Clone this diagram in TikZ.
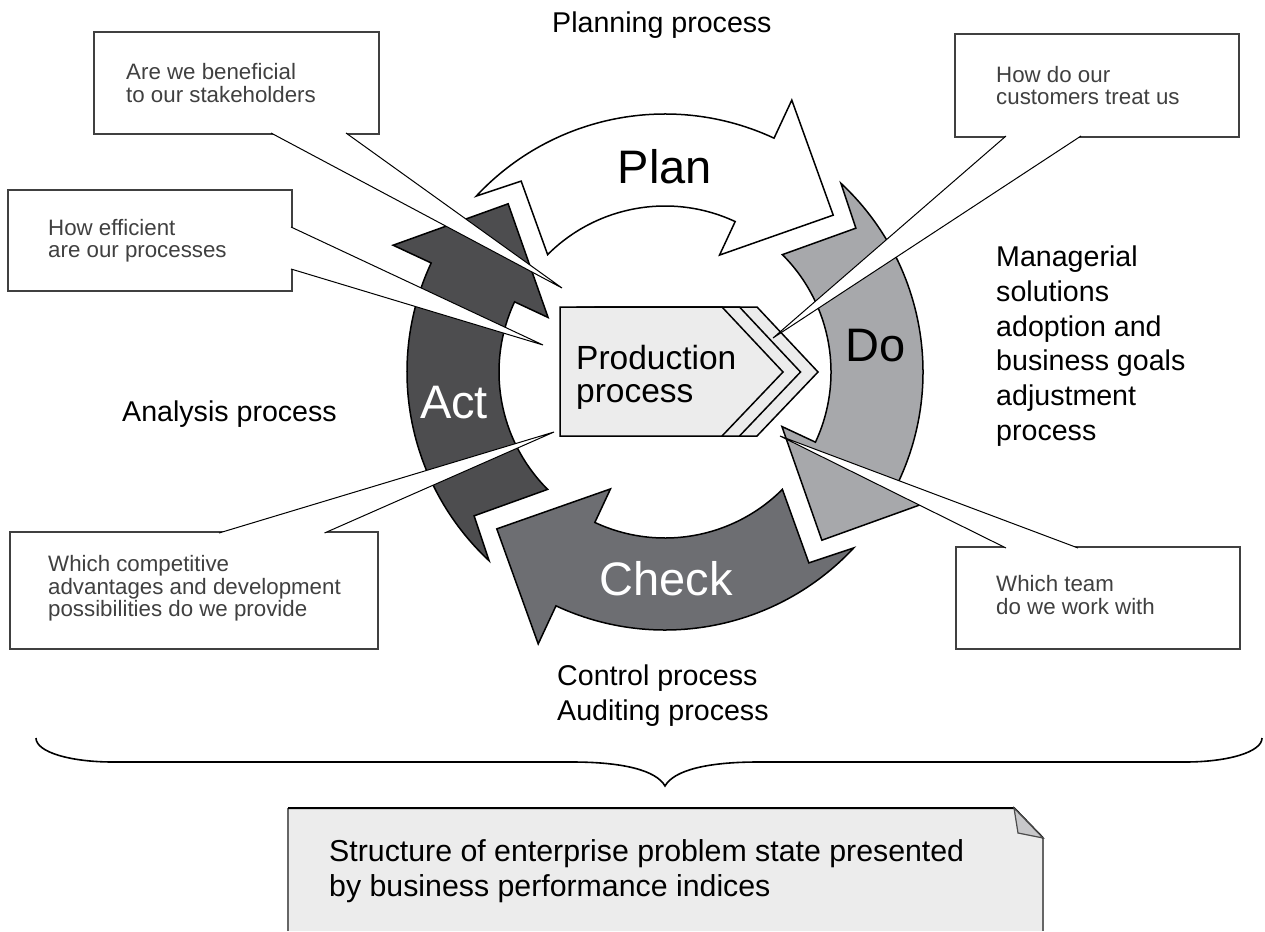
\documentclass[tikz,border=0pt]{standalone}
\usepackage{fontspec}
\setmainfont{Liberation Sans}
\usetikzlibrary{calc}

\definecolor{dogray}{RGB}{167,168,171}
\definecolor{checkgray}{RGB}{109,110,114}
\definecolor{actgray}{RGB}{77,77,79}
\definecolor{boxgray}{RGB}{236,236,236}
\definecolor{foldgray}{RGB}{200,200,202}
\definecolor{calltext}{RGB}{64,64,64}

% one curved arrow of the cycle, turned by #1 degrees
\newcommand*{\cyclearrow}[2]{%
\draw[cyclestyle, fill=#2] ({137+#1}:258) -- ({127+#1}:239) -- ({135+#1}:166)
  arc[start angle={135+#1}, end angle={65+#1}, radius=166] -- ({65+#1}:129)
  -- ({43+#1}:230) -- ({65+#1}:300) -- ({65+#1}:258)
  arc[start angle={65+#1}, end angle={137+#1}, radius=258] -- cycle;}

% pointer of a callout box
\newcommand*{\callwedge}[3]{%
\filldraw[wedgeline] (#1) -- (#2) -- (#3);}

\tikzset{
  cyclestyle/.style={draw=black, line width=1.5pt, line join=miter},
  wedgeline/.style={draw=black, fill=white, line width=1pt},
  callout/.style={draw=black!75, line width=1.2pt, fill=white, inner sep=0pt, outer sep=0pt},
  calltxt/.style={inner sep=0pt, anchor=west, align=left, text=calltext,
    font=\fontsize{22.3}{22.5}\selectfont},
  plaintext/.style={inner sep=0pt, align=left, font=\fontsize{28.6}{34.8}\selectfont},
  biglabel/.style={inner sep=0pt, font=\fontsize{47}{47}\selectfont},
  prodlayer/.style={draw=black, fill=boxgray, line width=1.5pt, line join=miter}
}

\begin{document}
\begin{tikzpicture}[x=1pt, y=-1pt]
\useasboundingbox (0,0) rectangle (1265,931);

% PDCA ring
\begin{scope}[shift={(665,372)}, yscale=-1]
  \cyclearrow{0}{white}
  \cyclearrow{-90}{dogray}
  \cyclearrow{-180}{checkgray}
  \cyclearrow{-270}{actgray}
\end{scope}

\node[biglabel] (plan) at (665,167) {Plan};
\node[biglabel] (do) at (876,346) {Do};
\node[biglabel, text=white] (check) at (666,579) {Check};
\node[biglabel, text=white] (act) at (454,403) {Act};

% production process box
\draw[prodlayer] (595,307) -- (757,307) -- (818,372) -- (757,436) -- (595,436) -- cycle;
\draw[prodlayer] (577,307) -- (739.5,307) -- (800.5,372) -- (739.5,436) -- (577,436) -- cycle;
\draw[prodlayer] (560,307) -- (722,307) -- (783,372) -- (722,436) -- (560,436) -- cycle;
\node[inner sep=0pt, align=left, anchor=west, font=\fontsize{33.5}{33}\selectfont]
  (prod) at (576,377) {Production\\process};

% callouts
\node[callout, minimum width=285pt, minimum height=102pt] (cbenefit) at (236.5,83) {};
\node[callout, minimum width=284pt, minimum height=101pt] (cprocess) at (150,240.5) {};
\node[callout, minimum width=284pt, minimum height=103pt] (ccustomer) at (1097,85.5) {};
\node[callout, minimum width=284pt, minimum height=102pt] (cteam) at (1098,598) {};
\node[callout, minimum width=368pt, minimum height=117pt] (cadvantage) at (194,590.5) {};

\node[calltxt] (qbenefit) at ([xshift=32pt]cbenefit.west) {Are we beneficial\\to our stakeholders};
\node[calltxt] (qprocess) at ([xshift=40pt]cprocess.west) {How efficient\\are our processes};
\node[calltxt] (qcustomer) at ([xshift=41pt]ccustomer.west) {How do our\\customers treat us};
\node[calltxt] (qteam) at ([xshift=40pt,yshift=3pt]cteam.west) {Which team\\do we work with};
\node[calltxt] (qadvantage) at ([xshift=38pt,yshift=2pt]cadvantage.west)
  {Which competitive\\advantages and development\\possibilities do we provide};

\coordinate (pbenefit) at (562,288);
\coordinate (pprocess) at (543,345);
\coordinate (pcustomer) at (773,338);
\coordinate (pteam) at (780,436);
\coordinate (padvantage) at (554,432);

\callwedge{[xshift=177pt,yshift=1pt]cbenefit.south west}{pbenefit}{[xshift=252pt,yshift=1pt]cbenefit.south west}
\callwedge{[xshift=-1pt,yshift=-37pt]cprocess.north east}{pprocess}{[xshift=-1pt,yshift=-79pt]cprocess.north east}
\callwedge{[xshift=51pt,yshift=1pt]ccustomer.south west}{pcustomer}{[xshift=126pt,yshift=1pt]ccustomer.south west}
\callwedge{[xshift=50pt,yshift=-1pt]cteam.north west}{pteam}{[xshift=122pt,yshift=-1pt]cteam.north west}
\callwedge{[xshift=209pt,yshift=-1pt]cadvantage.north west}{padvantage}{[xshift=314.5pt,yshift=-1pt]cadvantage.north west}

% process names
\node[plaintext, anchor=base west] (planning) at (552,33) {Planning process};
\node[plaintext, anchor=north west] (managerial) at (996,245.5)
  {Managerial\\solutions\\adoption and\\business goals\\adjustment\\process};
\node[plaintext, anchor=base west] (analysis) at (122,421) {Analysis process};
\node[plaintext, anchor=north west, font=\fontsize{28.6}{35}\selectfont] (control) at (557,664.5)
  {Control process\\Auditing process};

% brace
\draw[line width=1.6pt] (36,738) .. controls (36,752) and (70,762) .. (113,762)
  -- (572,762) .. controls (622,762) and (656,770) .. (665,786)
  .. controls (674,770) and (708,762) .. (758,762)
  -- (1185,762) .. controls (1228,762) and (1262,752) .. (1262,738);

% result note
\fill[boxgray] (288,931) -- (288,808) -- (1014,808) -- (1043,838) -- (1043,931) -- cycle;
\draw[black!60, line width=1.5pt] (288,931) -- (288,808);
\draw[black!60, line width=1.5pt] (1043,838) -- (1043,931);
\draw[black, line width=2pt] (288,808) -- (1014,808) -- (1043,838);
\filldraw[fill=foldgray, draw=black!70, line width=1.2pt] (1014,808) -- (1018,833) -- (1043,838) -- cycle;
\node[plaintext, anchor=north west, font=\fontsize{30.3}{35.3}\selectfont] (structure) at (329,839)
  {Structure of enterprise problem state presented\\by business performance indices};
\end{tikzpicture}
\end{document}
